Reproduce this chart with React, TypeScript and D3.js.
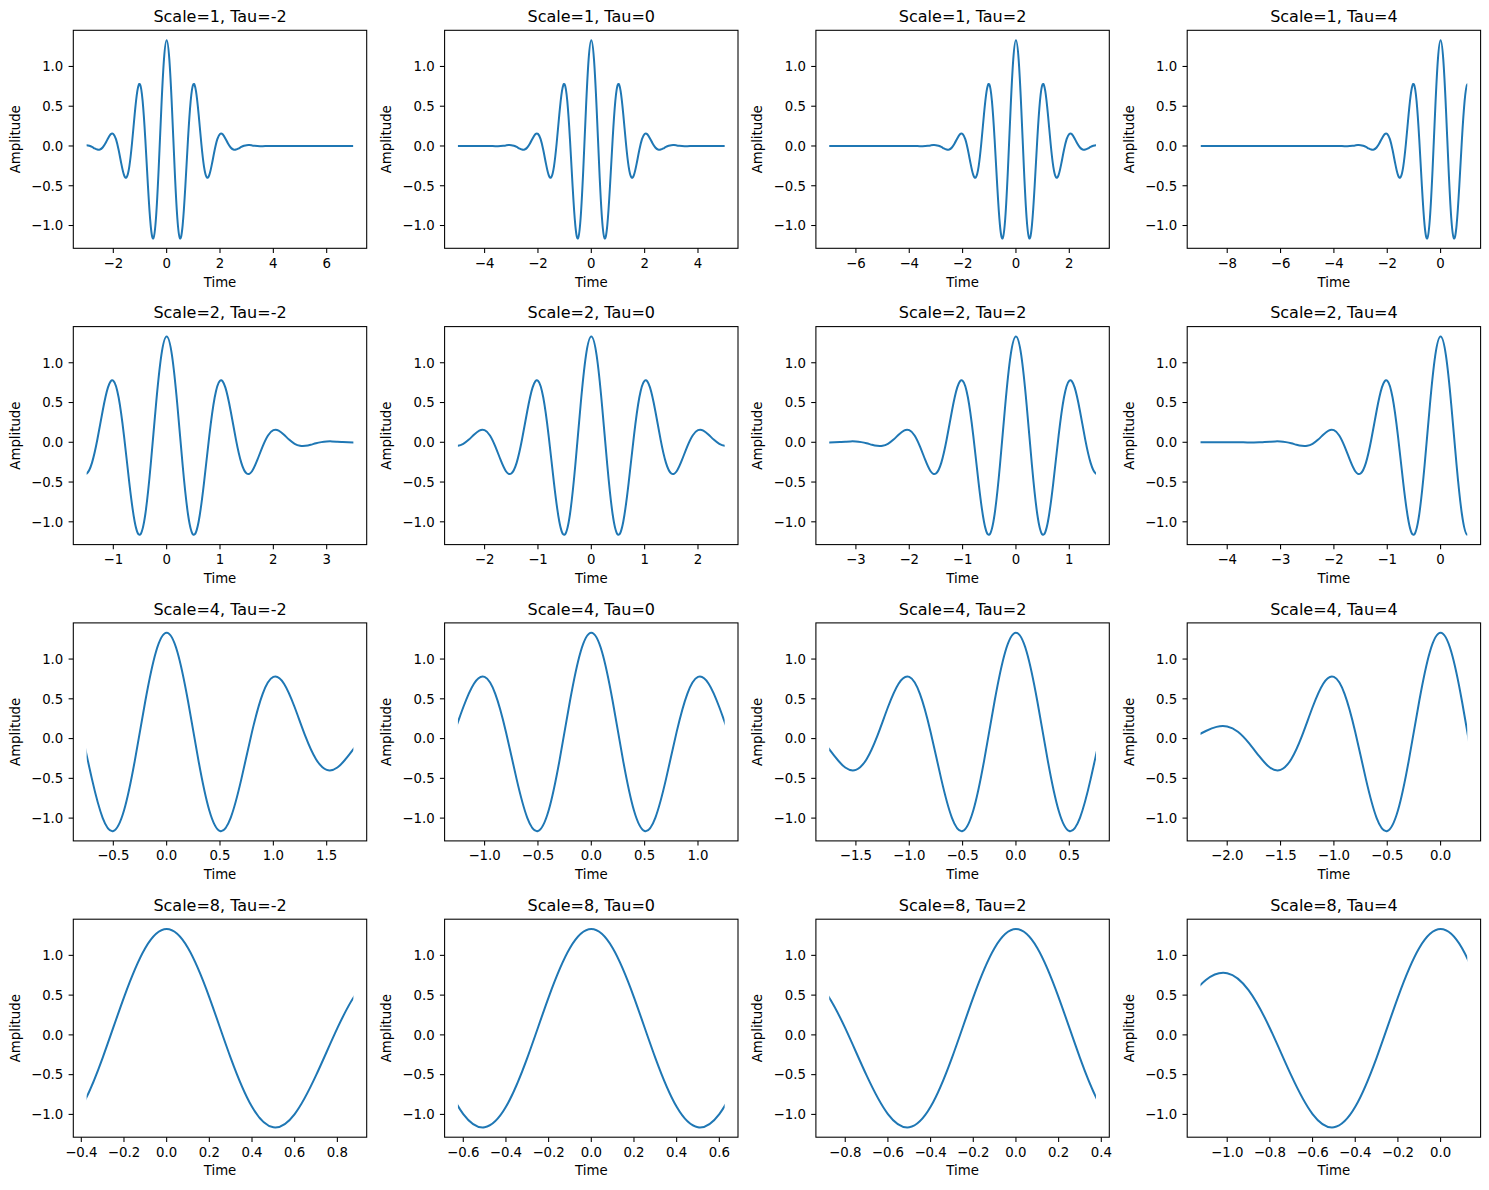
import React, { useEffect, useRef } from 'react';
import * as d3 from 'd3';

// grid of panels
const scales = [1, 2, 4, 8];
const taus = [-2, 0, 2, 4];

// x range of each row before shifting by tau: t runs from -5 to 5, plotted as (t - tau) / scale
const timeStart = -5;
const timeEnd = 5;

// wavelet shape, amplitude vs. shifted/scaled time
const waveTime = [
  -9, -6, -5, -4.5,
  -4.0, -3.9, -3.8, -3.7, -3.6, -3.5, -3.4, -3.3, -3.2, -3.1,
  -3.0, -2.9, -2.8, -2.7, -2.6, -2.5, -2.4, -2.3, -2.2, -2.1,
  -2.0, -1.9, -1.8, -1.7, -1.6, -1.5, -1.4, -1.3, -1.2, -1.1,
  -1.0, -0.9, -0.8, -0.7, -0.6, -0.5, -0.4, -0.3, -0.2, -0.1,
  0.0, 0.1, 0.2, 0.3, 0.4, 0.5, 0.6, 0.7, 0.8, 0.9,
  1.0, 1.1, 1.2, 1.3, 1.4, 1.5, 1.6, 1.7, 1.8, 1.9,
  2.0, 2.1, 2.2, 2.3, 2.4, 2.5, 2.6, 2.7, 2.8, 2.9,
  3.0, 3.1, 3.2, 3.3, 3.4, 3.5, 3.6, 3.7, 3.8, 3.9,
  4.0, 4.5, 5, 6, 7,
];
const waveAmp = [
  0, 0, 0, 0,
  0.0, 0.0, 0.0, -0.001, -0.002, -0.002, 0.0, 0.003, 0.007, 0.011,
  0.010, 0.002, -0.012, -0.031, -0.045, -0.044, -0.019, 0.031, 0.095, 0.147,
  0.152, 0.086, -0.051, -0.222, -0.364, -0.393, -0.259, 0.031, 0.394, 0.690,
  0.775, 0.563, 0.084, -0.510, -0.996, -1.162, -0.905, -0.289, 0.472, 1.092,
  1.330, 1.092, 0.472, -0.289, -0.905, -1.162, -0.996, -0.510, 0.084, 0.563,
  0.775, 0.690, 0.394, 0.031, -0.259, -0.393, -0.364, -0.222, -0.051, 0.086,
  0.152, 0.147, 0.095, 0.031, -0.019, -0.044, -0.045, -0.031, -0.012, 0.002,
  0.010, 0.011, 0.007, 0.003, 0.0, -0.002, -0.002, -0.001, 0.0, 0.0,
  0.0, 0, 0, 0, 0,
];

// tick labels per panel, row = scale, column = tau
const xTicks = [
  [[-2, 0, 2, 4, 6], [-4, -2, 0, 2, 4], [-6, -4, -2, 0, 2], [-8, -6, -4, -2, 0]],
  [[-1, 0, 1, 2, 3], [-2, -1, 0, 1, 2], [-3, -2, -1, 0, 1], [-4, -3, -2, -1, 0]],
  [[-0.5, 0, 0.5, 1, 1.5], [-1, -0.5, 0, 0.5, 1], [-1.5, -1, -0.5, 0, 0.5], [-2, -1.5, -1, -0.5, 0]],
  [
    [-0.4, -0.2, 0, 0.2, 0.4, 0.6, 0.8],
    [-0.6, -0.4, -0.2, 0, 0.2, 0.4, 0.6],
    [-0.8, -0.6, -0.4, -0.2, 0, 0.2, 0.4],
    [-1, -0.8, -0.6, -0.4, -0.2, 0],
  ],
];
const xTickDecimals = [0, 0, 1, 1];
const yTicks = [-1.0, -0.5, 0.0, 0.5, 1.0];

const fmt = (v: number, d: number) => v.toFixed(d).replace('-', '\u2212');

export default function App() {
  const svgRef = useRef<SVGSVGElement>(null);

  useEffect(() => {
    if (!svgRef.current) return;
    const svg = d3.select(svgRef.current);
    svg.selectAll('*').remove();

    const width = 1489;
    const height = 1190;
    svg.attr('width', width).attr('height', height);
    svg.append('rect').attr('width', width).attr('height', height).attr('fill', '#fff');

    const font = '"DejaVu Sans", sans-serif';
    const colLeft = 73.3;
    const colStep = 371.3;
    const rowTop = 30.3;
    const rowStep = 296.3;
    const axW = 293.4;
    const axH = 218;

    const points = waveTime.map((t, i) => ({ t, a: waveAmp[i] }));

    scales.forEach((s, r) => {
      taus.forEach((tau, c) => {
        const left = colLeft + c * colStep;
        const top = rowTop + r * rowStep;
        const lo = (timeStart - tau) / s;
        const hi = (timeEnd - tau) / s;
        const pad = (hi - lo) * 0.05;

        // keep one sample beyond each end so the clipped curve reaches the edge
        const iLo = Math.max(0, d3.bisectRight(waveTime, lo) - 2);
        const iHi = Math.min(points.length, d3.bisectLeft(waveTime, hi) + 2);
        const visible = points.slice(iLo, iHi);
        const shown = points.filter((p) => p.t >= lo && p.t <= hi);
        const [yMin, yMax] = d3.extent(shown, (p) => p.a) as [number, number];
        const yPad = (yMax - yMin) * 0.05;

        const x = d3.scaleLinear().domain([lo - pad, hi + pad]).range([0, axW]);
        const y = d3.scaleLinear().domain([yMin - yPad, yMax + yPad]).range([axH, 0]);

        const g = svg.append('g').attr('transform', `translate(${left},${top})`);
        const clipId = `clip-${r}-${c}`;
        g.append('clipPath')
          .attr('id', clipId)
          .append('rect')
          .attr('x', x(lo))
          .attr('y', -10)
          .attr('width', x(hi) - x(lo))
          .attr('height', axH + 20);

        const line = d3
          .line<{ t: number; a: number }>()
          .x((d) => x(d.t))
          .y((d) => y(d.a))
          .curve(d3.curveNatural);

        g.append('path')
          .datum(visible)
          .attr('d', line)
          .attr('clip-path', `url(#${clipId})`)
          .attr('fill', 'none')
          .attr('stroke', '#1f77b4')
          .attr('stroke-width', 2)
          .attr('stroke-linejoin', 'round');

        // frame
        g.append('rect')
          .attr('width', axW)
          .attr('height', axH)
          .attr('fill', 'none')
          .attr('stroke', '#000')
          .attr('stroke-width', 1.07);

        // x ticks
        const xt = g.append('g').attr('transform', `translate(0,${axH})`);
        xTicks[r][c].forEach((v) => {
          const px = x(v);
          xt.append('line').attr('x1', px).attr('x2', px).attr('y1', 0).attr('y2', 4.7).attr('stroke', '#000').attr('stroke-width', 1.07);
          xt.append('text')
            .attr('x', px)
            .attr('y', 19.5)
            .attr('text-anchor', 'middle')
            .attr('font-family', font)
            .attr('font-size', 13.3)
            .attr('fill', '#000')
            .text(fmt(v, xTickDecimals[r]));
        });

        // y ticks
        yTicks.forEach((v) => {
          const py = y(v);
          g.append('line').attr('x1', -4.7).attr('x2', 0).attr('y1', py).attr('y2', py).attr('stroke', '#000').attr('stroke-width', 1.07);
          g.append('text')
            .attr('x', -10)
            .attr('y', py)
            .attr('dy', '0.36em')
            .attr('text-anchor', 'end')
            .attr('font-family', font)
            .attr('font-size', 13.3)
            .attr('fill', '#000')
            .text(fmt(v, 1));
        });

        // labels and title
        g.append('text')
          .attr('x', axW / 2)
          .attr('y', axH + 38.3)
          .attr('text-anchor', 'middle')
          .attr('font-family', font)
          .attr('font-size', 13.3)
          .text('Time');

        g.append('text')
          .attr('transform', `translate(-53.6,${axH / 2}) rotate(-90)`)
          .attr('text-anchor', 'middle')
          .attr('font-family', font)
          .attr('font-size', 13.3)
          .text('Amplitude');

        g.append('text')
          .attr('x', axW / 2)
          .attr('y', -8.3)
          .attr('text-anchor', 'middle')
          .attr('font-family', font)
          .attr('font-size', 16)
          .text(`Scale=${s}, Tau=${tau}`);
      });
    });
  }, []);

  return (
    <div style={{ position: 'absolute', left: 0, top: 0 }}>
      <svg ref={svgRef} style={{ display: 'block' }} />
    </div>
  );
}
